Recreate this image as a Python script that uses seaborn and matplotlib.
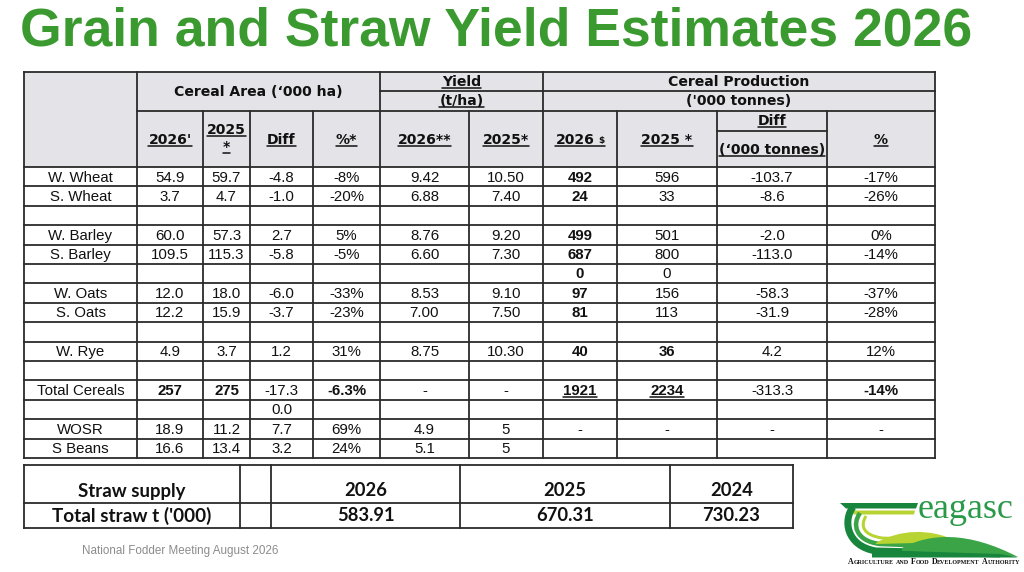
import matplotlib
matplotlib.use("Agg")
import matplotlib.pyplot as plt
import seaborn as sns
from matplotlib.patches import Rectangle, Polygon, PathPatch
from matplotlib.path import Path

# ---------------- data ----------------
crops = ["W. Wheat", "S. Wheat", "", "W. Barley", "S. Barley", "", "W. Oats", "S. Oats", "",
         "W. Rye", "", "Total Cereals", "", "WOSR", "S Beans"]
area_2026 = ["54.9", "3.7", "", "60.0", "109.5", "", "12.0", "12.2", "", "4.9", "", "257", "", "18.9", "16.6"]
area_2025 = ["59.7", "4.7", "", "57.3", "115.3", "", "18.0", "15.9", "", "3.7", "", "275", "", "11.2", "13.4"]
area_diff = ["-4.8", "-1.0", "", "2.7", "-5.8", "", "-6.0", "-3.7", "", "1.2", "", "-17.3", "0.0", "7.7", "3.2"]
area_pct = ["-8%", "-20%", "", "5%", "-5%", "", "-33%", "-23%", "", "31%", "", "-6.3%", "", "69%", "24%"]
yield_2026 = ["9.42", "6.88", "", "8.76", "6.60", "", "8.53", "7.00", "", "8.75", "", "-", "", "4.9", "5.1"]
yield_2025 = ["10.50", "7.40", "", "9.20", "7.30", "", "9.10", "7.50", "", "10.30", "", "-", "", "5", "5"]
prod_2026 = ["492", "24", "", "499", "687", "0", "97", "81", "", "40", "", "1921", "", "-", ""]
prod_2025 = ["596", "33", "", "501", "800", "0", "156", "113", "", "36", "", "2234", "", "-", ""]
prod_diff = ["-103.7", "-8.6", "", "-2.0", "-113.0", "", "-58.3", "-31.9", "", "4.2", "", "-313.3", "", "-", ""]
prod_pct = ["-17%", "-26%", "", "0%", "-14%", "", "-37%", "-28%", "", "12%", "", "-14%", "", "-", ""]

straw_labels = ["Straw supply", "Total straw t ('000)"]
straw_years = ["2026", "2025", "2024"]
straw_totals = [583.91, 670.31, 730.23]

title = "Grain and Straw Yield Estimates 2026"
footer = "National Fodder Meeting August 2026"

# ---------------- styling / layout ----------------
sns.set_theme(style="white")
plt.rcParams["font.family"] = ["DejaVu Sans"]

W, H = 1024, 572
fig = plt.figure(figsize=(W / 100, H / 100), dpi=100)
ax = fig.add_axes([0, 0, 1, 1])
ax.set_xlim(0, W)
ax.set_ylim(H, 0)
ax.axis("off")
renderer = fig.canvas.get_renderer()

GREEN = "#3b9a2f"
LINE = "#2b2b2b"
HDR = "#e4e3e7"
LW = 1.3

columns = [area_2026, area_2025, area_diff, area_pct, yield_2026, yield_2025,
           prod_2026, prod_2025, prod_diff, prod_pct]
edges = [24, 137, 203, 250, 313, 380, 469, 543, 617, 717, 827, 935]
t_top, h1, h2, h_bot = 72, 91, 111, 167
row_h = (458 - h_bot) / len(crops)

underlined = []


def txt(x, y, s, underline=False, **kw):
    kw.setdefault("ha", "center")
    kw.setdefault("va", "center")
    t = ax.text(x, y, s, **kw)
    if underline:
        underlined.append(t)
    return t


def width_of(s, **kw):
    t = ax.text(0, 0, s, **kw)
    w = t.get_window_extent(renderer).width
    t.remove()
    return w


# title, fitted to its span
tfont = dict(family="Liberation Sans", weight="bold", color=GREEN)
tw = width_of(title, fontsize=38, **tfont)
ax.text(20, 45, title, fontsize=38 * 950 / tw, ha="left", va="baseline", **tfont)

# header background
ax.add_patch(Rectangle((edges[0], t_top), edges[-1] - edges[0], h_bot - t_top,
                       facecolor=HDR, edgecolor="none", zorder=0))


# grid lines
def hl(y, x0, x1):
    ax.plot([x0, x1], [y, y], color=LINE, lw=LW, solid_capstyle="projecting", zorder=3)


def vl(x, y0, y1):
    ax.plot([x, x], [y0, y1], color=LINE, lw=LW, solid_capstyle="projecting", zorder=3)


hl(t_top, edges[0], edges[-1])
hl(h1, edges[5], edges[-1])
hl(h2, edges[1], edges[-1])
hl(131, edges[9], edges[10])
for i in range(len(crops) + 1):
    hl(h_bot + i * row_h, edges[0], edges[-1])
for j, x in enumerate(edges):
    if j in (0, 1, 5, 7, 11):
        vl(x, t_top, 458)
    else:
        vl(x, h2, 458)

# header text
hf = dict(family="DejaVu Sans", weight="bold", fontsize=10.1, color="#111111")
txt((edges[1] + edges[5]) / 2, (t_top + h2) / 2, "Cereal Area (\u2018000 ha)", **hf)
txt((edges[5] + edges[7]) / 2, (t_top + h1) / 2 + 0.5, "Yield", underline=True, **hf)
txt((edges[5] + edges[7]) / 2, (h1 + h2) / 2, "(t/ha)", underline=True, **hf)
txt((edges[7] + edges[11]) / 2, (t_top + h1) / 2 + 0.5, "Cereal Production", **hf)
txt((edges[7] + edges[11]) / 2, (h1 + h2) / 2, "('000 tonnes)", **hf)
sub_y = 140
txt((edges[1] + edges[2]) / 2, sub_y, "2026'", underline=True, **hf)
txt((edges[2] + edges[3]) / 2, 130, "2025", underline=True, **hf)
txt((edges[2] + edges[3]) / 2, 147, "*", underline=True, **hf)
txt((edges[3] + edges[4]) / 2, sub_y, "Diff", underline=True, **hf)
txt((edges[4] + edges[5]) / 2, sub_y, "%*", underline=True, **hf)
txt((edges[5] + edges[6]) / 2, sub_y, "2026**", underline=True, **hf)
txt((edges[6] + edges[7]) / 2, sub_y, "2025*", underline=True, **hf)
# 2026 with small $
w1 = width_of("2026", **hf)
small = dict(hf, fontsize=6.5)
w2 = width_of("$", **small)
cx = (edges[7] + edges[8]) / 2
x0 = cx - (w1 + 4 + w2) / 2
t26 = txt(x0, sub_y, "2026", ha="left", **hf)
txt(x0 + w1 + 4, sub_y + 1, "$", ha="left", **small)
txt((edges[8] + edges[9]) / 2, sub_y, "2025 *", underline=True, **hf)
txt((edges[9] + edges[10]) / 2, 121, "Diff", underline=True, **hf)
txt((edges[9] + edges[10]) / 2, 150, "(\u2018000 tonnes)", underline=True, **hf)
txt((edges[10] + edges[11]) / 2, sub_y, "%", underline=True, **hf)

# body
bold_cells = {(0, 11), (1, 11), (3, 11), (7, 9), (7, 11), (9, 11)}
for r in range(len(crops)):
    if prod_2026[r] not in ("", "-"):
        bold_cells.add((6, r))
under_cells = {(6, 11), (7, 11)}
df = dict(family="Liberation Sans", fontsize=10.8, color="#111111")
for r, name in enumerate(crops):
    yc = h_bot + (r + 0.5) * row_h + 0.8
    if name:
        txt((edges[0] + edges[1]) / 2, yc, name, **df)
    for c, col in enumerate(columns):
        s = col[r]
        if not s:
            continue
        kw = dict(df)
        if (c, r) in bold_cells:
            kw["weight"] = "bold"
        txt((edges[c + 1] + edges[c + 2]) / 2, yc, s, underline=(c, r) in under_cells, **kw)

# underline pass
for t in underlined:
    bb = t.get_window_extent(renderer)
    xa, ya = ax.transData.inverted().transform((bb.x0, bb.y0))
    xb, _ = ax.transData.inverted().transform((bb.x1, bb.y0))
    ax.plot([xa, xb], [ya - 1.2, ya - 1.2], color="#111111", lw=1.1, zorder=4)
bb = t26.get_window_extent(renderer)
xa, ya = ax.transData.inverted().transform((bb.x0, bb.y0))
ax.plot([xa, xa + w1 + 4 + w2], [ya - 1.2, ya - 1.2], color="#111111", lw=1.1, zorder=4)

# ---------------- straw table ----------------
s_edges = [24, 240, 271, 460, 670, 793]
s_top, s_mid, s_bot = 464.5, 503, 528
for y in (s_top, s_mid, s_bot):
    hl(y, s_edges[0], s_edges[-1])
for x in s_edges:
    vl(x, s_top, s_bot)
sf = dict(family="Lato", weight="bold", fontsize=13.2, color="#111111")
label_widths = [108, 160]
for lab, wt, yy in zip(straw_labels, label_widths, (491, 515.5)):
    fs = 13.2 * wt / width_of(lab, **sf)
    txt((s_edges[0] + s_edges[1]) / 2, yy, lab, **dict(sf, fontsize=min(fs, 13.6)))
for k, (yr, tot) in enumerate(zip(straw_years, straw_totals)):
    xc = (s_edges[k + 2] + s_edges[k + 3]) / 2
    txt(xc, 491, yr, **sf)
    txt(xc, 515.5, f"{tot:.2f}", **sf)

# footer
ax.text(82, 551, footer, fontsize=8.4, family="Liberation Sans", color="#8c8c8c",
        ha="left", va="center")

# ---------------- logo ----------------
DK, MD, LT = "#17853b", "#3aa447", "#b8d432"
M, L, C = Path.MOVETO, Path.LINETO, Path.CURVE4


def stroke(verts, codes, color, lw):
    ax.add_patch(PathPatch(Path(verts, codes), facecolor="none", edgecolor=color,
                           lw=lw * 0.72, capstyle="butt", joinstyle="round", zorder=5))


def fill(verts, codes, color):
    ax.add_patch(PathPatch(Path(verts, codes), facecolor=color, edgecolor="none", zorder=6))


ax.add_patch(Polygon([(840, 503), (918, 503), (916, 508.5), (846, 508.5)], closed=True,
                     facecolor=DK, edgecolor="none", zorder=5))
ax.add_patch(Polygon([(850, 510.5), (915, 510.5), (914, 514.5), (854, 514.5)], closed=True,
                     facecolor=LT, edgecolor="none", zorder=5))
stroke([(853, 507), (843, 520), (846, 546), (876, 551), (1000, 554)], [M, C, C, C, L], DK, 7)
stroke([(860, 513), (852, 524), (855, 541), (880, 544), (930, 546)], [M, C, C, C, L], MD, 4.5)
stroke([(866, 516), (860, 526), (863, 535), (882, 538), (905, 539)], [M, C, C, C, L], LT, 3)
fill([(876, 543), (898, 530), (930, 527), (958, 542), (876, 544), (876, 543)],
     [M, C, C, C, L, Path.CLOSEPOLY], LT)
fill([(902, 548), (930, 533), (968, 531), (1018, 557), (902, 551), (902, 548)],
     [M, C, C, C, L, Path.CLOSEPOLY], MD)
ax.add_patch(Polygon([(872, 550), (1000, 554), (1018, 557.5), (872, 557.5)], closed=True,
                     facecolor=DK, edgecolor="none", zorder=6))
ax.text(966, 518.5, "eagasc", fontsize=26, family="Liberation Serif", color="#2a9a48",
        ha="center", va="baseline", zorder=7)

# small-caps authority line fitted to width
pieces = [("A", 1), ("GRICULTURE", 0), (" ", 0), ("AND", 0), (" ", 0), ("F", 1), ("OOD", 0),
          (" ", 0), ("D", 1), ("EVELOPMENT", 0), (" ", 0), ("A", 1), ("UTHORITY", 0)]
af = dict(family="Liberation Serif", weight="bold", color="#111111")


def layout(scale, draw=False):
    x = 848
    for s, big in pieces:
        fs = (6.0 if big else 4.6) * scale
        if s == " ":
            x += 2.2 * scale
            continue
        t = ax.text(x, 564, s, fontsize=fs, ha="left", va="baseline", zorder=7, **af)
        x += t.get_window_extent(renderer).width
        if not draw:
            t.remove()
    return x - 848


tot = layout(1.0)
layout(170 / tot, draw=True)

fig.savefig("out.png", dpi=100, facecolor="white")
